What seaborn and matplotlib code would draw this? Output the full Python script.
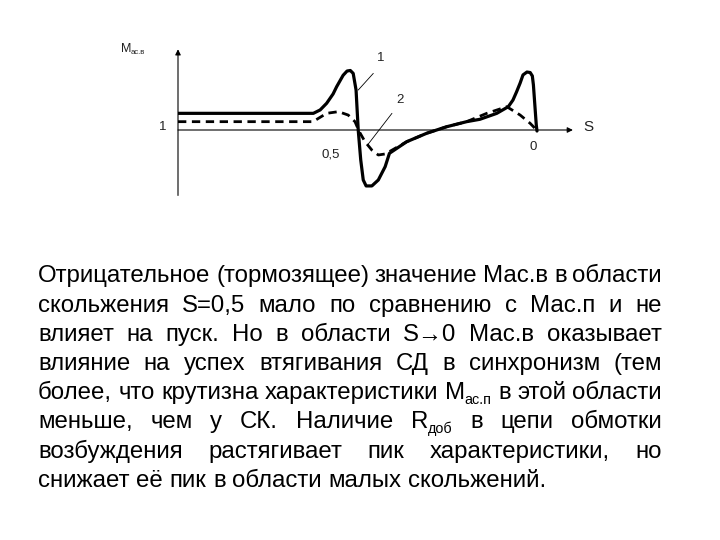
import matplotlib
matplotlib.use("Agg")
import matplotlib.pyplot as plt
import seaborn as sns

sns.set_theme(style="white")
plt.rcParams["font.family"] = ["Liberation Sans", "DejaVu Sans"]

# slip s (1 at standstill, 0 at synchronism) and asynchronous torque M
# curve 1 - solid
s_curve1 = [1.0, 0.623, 0.604, 0.586, 0.568, 0.558, 0.540, 0.529, 0.520, 0.512,
            0.504, 0.498, 0.491, 0.484, 0.476, 0.460, 0.442, 0.423, 0.411, 0.363,
            0.307, 0.252, 0.196, 0.159, 0.112, 0.080, 0.067, 0.057, 0.047, 0.039,
            0.028, 0.019, 0.013, 0.010, 0.006, 0.002, 0.0]
m_curve1 = [0.98, 0.98, 1.18, 1.57, 2.12, 2.55, 3.22, 3.47, 3.50, 3.33,
            2.35, 0.0, -1.76, -2.94, -3.29, -3.29, -2.94, -2.16, -1.37, -0.69,
            -0.19, 0.19, 0.49, 0.63, 0.98, 1.37, 1.76, 2.24, 2.76, 3.24,
            3.41, 3.38, 3.18, 2.65, 1.47, 0.29, -0.06]
# curve 2 - dashed
s_curve2 = [1.0, 0.624, 0.586, 0.553, 0.526, 0.507, 0.495, 0.479, 0.460, 0.442,
            0.423, 0.411, 0.363, 0.307, 0.252, 0.196, 0.140, 0.084, 0.047, 0.019, 0.001]
m_curve2 = [0.49, 0.49, 0.98, 1.08, 0.88, 0.49, -0.10, -0.69, -1.18, -1.47,
            -1.41, -1.27, -0.69, -0.19, 0.19, 0.49, 0.98, 1.37, 0.88, 0.39, 0.0]

# text under the sketch, one entry per (justified) line; tuples are (text, is_subscript)
paragraph = [
    ["Отрицательное", "(тормозящее)", "значение", "Мас.в", "в", "области"],
    ["скольжения", "S=0,5", "мало", "по", "сравнению", "с", "Мас.п", "и", "не"],
    ["влияет", "на", "пуск.", "Но", "в", "области", "S→0", "Мас.в", "оказывает"],
    ["влияние", "на", "успех", "втягивания", "СД", "в", "синхронизм", "(тем"],
    ["более,", "что", "крутизна", "характеристики", [("M", False), ("ас.п", True)],
     "в", "этой", "области"],
    ["меньше,", "чем", "у", "СК.", "Наличие", [("R", False), ("доб", True)],
     "в", "цепи", "обмотки"],
    ["возбуждения", "растягивает", "пик", "характеристики,", "но"],
    ["снижает", "её", "пик", "в", "области", "малых", "скольжений."],
]

W, H = 720, 540
TEXT_SIZE = 17.3

fig = plt.figure(figsize=(7.2, 5.4), dpi=100)
renderer = fig.canvas.get_renderer()

# --- the sketch ---
ax = fig.add_axes([178 / W, 1 - 206.5 / H, 430.8 / W, 170 / H])
ax.set_xlim(1, -0.2)
ax.set_ylim(-4.5, 5.5)
ax.axis("off")

arrow = dict(arrowstyle="-|>", lw=0.8, color="black", mutation_scale=8,
             shrinkA=0, shrinkB=0)
ax.annotate("", xy=(-0.1, 0), xytext=(1, 0), arrowprops=arrow)
ax.annotate("", xy=(1, 4.75), xytext=(1, -3.85), arrowprops=arrow)

sns.lineplot(x=s_curve1, y=m_curve1, sort=False, estimator=None, color="black",
             lw=2.3, ax=ax, solid_joinstyle="round")
sns.lineplot(x=s_curve2, y=m_curve2, sort=False, estimator=None, color="black",
             lw=2.0, linestyle=(0, (3, 2)), ax=ax)

# leader lines to the curve numbers
ax.plot([0.498, 0.456], [2.35, 3.33], color="black", lw=0.6)
ax.plot([0.472, 0.404], [-0.88, 0.98], color="black", lw=0.6)

lab = dict(fontsize=9.5, ha="center", va="center", color="#222222")
ax.text(0.435, 4.24, "1", **lab)
ax.text(0.382, 1.76, "2", **lab)
ax.text(1.042, 0.18, "1", **lab)
ax.text(0.574, -1.47, "0,5", **lab)
ax.text(0.011, -1.0, "0", **lab)
ax.text(-0.142, 0.18, "S", fontsize=11, ha="center", va="center", color="#222222")
ax.text(1.16, 4.59, "M", fontsize=9, ha="left", va="baseline", color="#222222")
ax.annotate("ас.в", xy=(1.16, 4.59), xytext=(7.5, -1.5), textcoords="offset points",
            fontsize=5.5, ha="left", va="baseline", color="#222222",
            annotation_clip=False)

# --- justified paragraph ---
left, right = 38, 662
base0, step = 282.5, 29.2
space = 0.278 * TEXT_SIZE * 100 / 72


def make_word(word):
    parts = [(word, False)] if isinstance(word, str) else word
    arts = []
    for txt, sub in parts:
        t = fig.text(0, 0, txt, fontsize=TEXT_SIZE * 0.6 if sub else TEXT_SIZE,
                     va="baseline", ha="left", color="black")
        arts.append((t, sub, t.get_window_extent(renderer).width))
    return arts, sum(a[2] for a in arts)


for i, line in enumerate(paragraph):
    base = round(base0 + i * step)
    words = [make_word(w) for w in line]
    total = sum(w[1] for w in words)
    last = i == len(paragraph) - 1
    gap = space if last else (right - left - total) / (len(words) - 1)
    x = left
    for arts, width in words:
        px = x
        for t, sub, w in arts:
            y = base + (5 if sub else 0)
            t.set_position((px / W, 1 - y / H))
            px += w
        x += width + gap

fig.savefig("out.png", dpi=100)
